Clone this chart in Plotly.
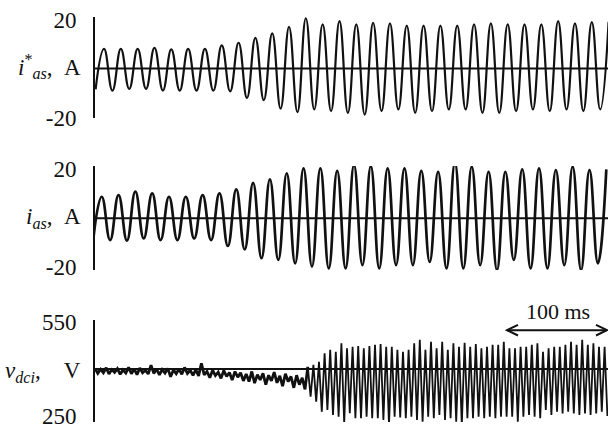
import numpy as np
import plotly.graph_objects as go

W, H = 608, 431
ML = 95

# ---------------- data ----------------
# time base: ms (1 px of the original ~ 1 ms, per the 100 ms scale bar)
HALF_60 = 8.41      # half period of the phase currents (ms)
HALF_180 = 2.80     # half period of the dc-link ripple (ms)

# Panel 1: i_as* (A) - trough / peak of each cycle
iref_t0 = 0.6
iref_troughs = [-8.5, -9.0, -8.3, -8.3, -9.0, -9.0, -9.0, -9.0, -9.3, -12.0, -12.9, -16.4, -17.8,
                -16.7, -17.4, -18.1, -18.8, -17.4, -16.7, -18.1, -17.4, -16.7, -16.7, -18.1, -18.1,
                -17.4, -16.7, -17.4, -16.7, -17.4, -16.7]
iref_peaks = [8.0, 8.0, 8.0, 8.4, 7.8, 8.0, 8.0, 9.4, 10.5, 12.5, 14.3, 17.0, 20.5,
              18.0, 19.3, 18.0, 18.6, 18.4, 17.5, 17.5, 17.5, 17.5, 18.0, 18.4, 18.0, 18.0, 18.0,
              19.3, 18.4, 18.9, 19.0]

# Panel 2: i_as (A)
ias_t0 = -1.7
ias_troughs = [-8.5, -8.9, -9.1, -8.2, -8.9, -8.9, -8.2, -8.9, -11.3, -12.7, -16.3, -17.0, -18.4,
               -19.7, -20.4, -20.4, -19.1, -20.4, -19.1, -19.1, -17.8, -20.4, -20.4, -19.1, -21.1,
               -17.0, -20.4, -20.4, -19.1, -21.1, -18.4]
ias_peaks = [8.8, 9.5, 10.9, 10.2, 8.8, 8.8, 9.5, 10.2, 11.8, 14.5, 15.9, 18.4, 20.4,
             20.4, 19.4, 21.8, 21.3, 20.4, 20.4, 19.4, 19.0, 22.7, 21.1, 19.0, 19.0, 20.0,
             20.4, 19.7, 21.1, 19.7, 20.0]

# Panel 3: v_dci (V) - noisy part, then ripple tops / bottoms
vdc_early = [402, 386, 399, 388, 404, 384, 398, 389, 401, 383, 397, 387, 405, 385, 400, 382,
             403, 388, 396, 384, 412, 386, 400, 381, 398, 387, 402, 375, 397, 385, 400, 383,
             405, 386, 396, 380,
             398, 378, 418, 381, 392, 372, 396, 379, 390, 370, 395, 376, 389, 365, 392, 374,
             388, 362, 384, 360, 392, 355, 382, 365, 386, 350, 380, 362, 390, 356, 378, 345,
             385, 360, 376, 340, 380, 350, 372, 335]
vdc_tops = [407, 413, 423, 450, 461, 455, 482, 466, 471, 473, 466, 473, 477, 480, 471, 471, 461,
            455, 461, 482, 493, 461, 487, 466, 487, 461, 482, 471, 484, 471, 480, 466, 471, 477, 477, 487,
            466, 466, 471, 471, 477, 482, 455, 466, 471, 471, 477, 487, 477, 493, 477, 482, 471, 471]
vdc_bottoms = [312, 296, 264, 269, 253, 248, 227, 259, 243, 243, 248, 243, 243, 237, 221, 248,
               245,
               243, 248, 237, 232, 248, 243, 253, 237, 243, 232, 221, 243, 243, 248, 243, 248, 243, 248, 248,
               248, 232, 248, 253, 248, 243, 269, 253, 264, 258, 264, 258, 253, 258, 253, 258, 264,
               250]

VREF = 400
scale_len_ms = 100
scale_start_ms = 412
scale_level_v = 524

# ---------------- build series ----------------
def interleave(a, b):
    out = []
    for u, v in zip(a, b):
        out += [u, v]
    return out

iref_y = interleave(iref_troughs, iref_peaks)
iref_x = iref_t0 + HALF_60 * np.arange(len(iref_y))
ias_y = interleave(ias_troughs, ias_peaks)
ias_x = ias_t0 + HALF_60 * np.arange(len(ias_y))
vdc_y = vdc_early + interleave(vdc_tops, vdc_bottoms)
vdc_x = HALF_180 * np.arange(len(vdc_y))
n_early = len(vdc_early)

XR = [0, 513]

def px(x):
    return (x - ML) / (W - ML)

def py(y):
    return 1 - y / H

FONT = "Liberation Serif"
INK = "#111"
fig = go.Figure()
fig.add_trace(go.Scatter(x=iref_x, y=iref_y, mode="lines", xaxis="x", yaxis="y",
                         line=dict(color=INK, width=2.2, shape="spline", smoothing=1.3)))
fig.add_trace(go.Scatter(x=ias_x, y=ias_y, mode="lines", xaxis="x2", yaxis="y2",
                         line=dict(color=INK, width=2.7, shape="spline", smoothing=1.3)))
fig.add_trace(go.Scatter(x=vdc_x[:n_early + 1], y=vdc_y[:n_early + 1], mode="lines",
                         xaxis="x3", yaxis="y3", line=dict(color=INK, width=2.8)))
fig.add_trace(go.Scatter(x=vdc_x[n_early:], y=vdc_y[n_early:], mode="lines",
                         xaxis="x3", yaxis="y3", line=dict(color=INK, width=1.8)))

for ax, y0 in (("", 0), ("2", 0), ("3", VREF)):
    fig.add_shape(type="line", xref="x" + ax, yref="y" + ax, x0=XR[0], x1=XR[1], y0=y0, y1=y0,
                  line=dict(color=INK, width=2), layer="above")

# 100 ms scale bar (double arrow) drawn as shapes
s0, s1, sv = scale_start_ms, scale_start_ms + scale_len_ms, scale_level_v
fig.add_shape(type="line", xref="x3", yref="y3", x0=s0, x1=s1, y0=sv, y1=sv,
              line=dict(color=INK, width=2))
fig.add_shape(type="path", xref="x3", yref="y3",
              path=f"M {s0+11},{sv+17} L {s0},{sv} L {s0+11},{sv-17}",
              line=dict(color=INK, width=2))
fig.add_shape(type="path", xref="x3", yref="y3",
              path=f"M {s1-11},{sv+17} L {s1},{sv} L {s1-11},{sv-17}",
              line=dict(color=INK, width=2))

xcommon = dict(range=XR, showgrid=False, zeroline=False, showticklabels=False, showline=False,
               fixedrange=True, automargin=False)
ycommon = dict(showgrid=False, zeroline=False, showline=True, linecolor=INK, linewidth=2,
               ticks="", ticklabelstandoff=12, automargin=False,
               tickfont=dict(family=FONT, size=23, color=INK), fixedrange=True)

fig.update_layout(
    template="none", autosize=False,
    width=W, height=H, margin=dict(l=ML, r=0, t=0, b=0, pad=0, autoexpand=False),
    paper_bgcolor="white", plot_bgcolor="white", showlegend=False, hovermode=False,
    xaxis=dict(xcommon, domain=[0, 1], anchor="y"),
    xaxis2=dict(xcommon, domain=[0, 1], anchor="y2"),
    xaxis3=dict(xcommon, domain=[0, 1], anchor="y3"),
    yaxis=dict(ycommon, domain=[py(118), py(17)], range=[-20.2, 21.0], anchor="x",
               tickvals=[20, -20], ticktext=["20", "-20"]),
    yaxis2=dict(ycommon, domain=[py(270), py(166)], range=[-21.1, 21.35], anchor="x2",
                tickvals=[20, -20], ticktext=["20", "-20"]),
    yaxis3=dict(ycommon, domain=[py(422), py(320)], range=[230.8, 556.4], anchor="x3",
                tickvals=[550, 250], ticktext=["550", "250"]),
)

lab_font = dict(family=FONT, size=23, color=INK)
labels = [
    ("<i>i</i><sup>*</sup><sub><i>as</i></sub>,\u00a0\u00a0A", 66),
    ("<i>i</i><sub><i>as</i></sub>,\u00a0\u00a0A", 218),
    ("<i>v</i><sub><i>dci</i></sub>,\u00a0\u00a0\u00a0\u00a0V", 372),
]
for txt, yy in labels:
    fig.add_annotation(text=txt, xref="paper", yref="paper", x=px(83), y=py(yy),
                       xanchor="right", yanchor="middle", showarrow=False, font=lab_font)

fig.add_annotation(text="100 ms", xref="paper", yref="paper", x=px(558), y=py(311),
                   xanchor="center", yanchor="middle", showarrow=False,
                   font=dict(family=FONT, size=22, color=INK))

fig.write_html("out.html", config={"displayModeBar": False, "responsive": False},
               post_script="document.body.style.margin='0';document.body.style.overflow='hidden';")
